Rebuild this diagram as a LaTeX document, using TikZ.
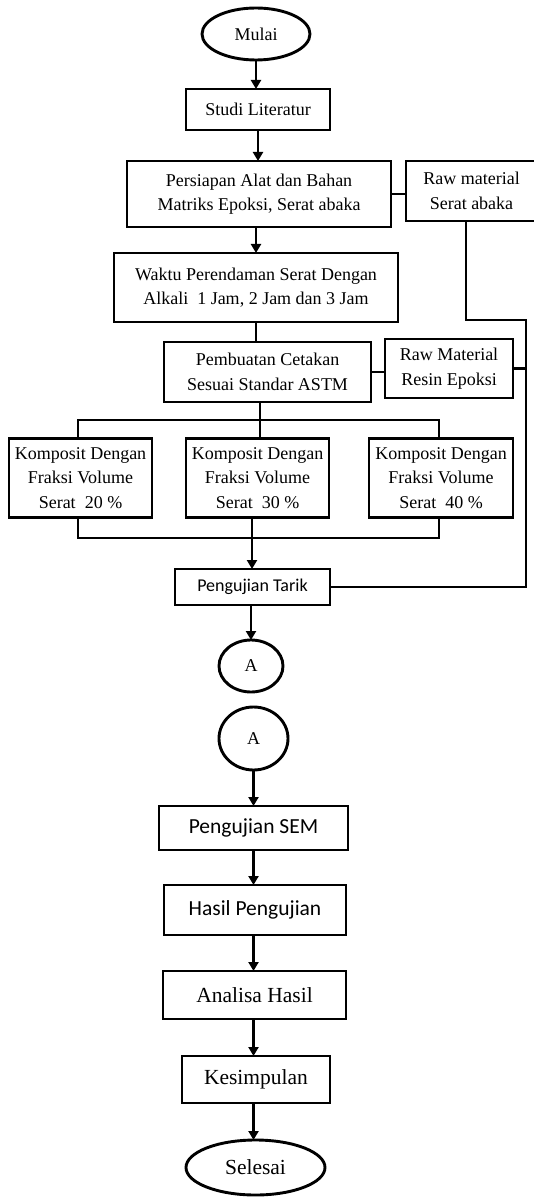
\documentclass[tikz,border=0pt]{standalone}
\usepackage{fontspec}
\setmainfont{Liberation Serif}
\newfontfamily\calfont{Carlito}
\usetikzlibrary{arrows.meta,shapes.geometric}
\begin{document}
\begin{tikzpicture}[x=1pt,y=-1pt,
  every node/.style={inner sep=0pt,outer sep=0pt,align=center,line width=2.9pt},
  txt/.style={font=\fontsize{18}{24.5}\selectfont},
  big/.style={font=\fontsize{21.5}{26}\selectfont},
  box/.style={draw,rectangle},
  oval/.style={draw,ellipse},
  conn/.style={line width=2.9pt},
  arr/.style={line width=2.9pt,-{Triangle[length=9pt,width=10pt]}}
]
\useasboundingbox (0,0) rectangle (534,1198);
% upper part
\node[oval,txt,minimum width=108,minimum height=52] (mulai) at (256,34) {Mulai};
\node[box,txt,minimum width=144,minimum height=41] (studi) at (258,109.5) {Studi Literatur};
\node[box,txt,minimum width=264,minimum height=66] (persiapan) at (259,194) {Persiapan Alat dan Bahan\\Matriks Epoksi, Serat abaka};
\node[box,txt,minimum width=131,minimum height=60] (raw1) at (471.5,191) {Raw material\\Serat abaka};
\node[box,txt,minimum width=284,minimum height=69] (waktu) at (256,287.5) {Waktu Perendaman Serat Dengan\\Alkali\ \ 1 Jam, 2 Jam dan 3 Jam};
\node[box,txt,minimum width=207,minimum height=60] (pembuatan) at (267.5,372) {Pembuatan Cetakan\\Sesuai Standar ASTM};
\node[box,txt,minimum width=128,minimum height=59] (raw2) at (449,368.5) {Raw Material\\Resin Epoksi};
\node[box,txt,minimum width=143,minimum height=79] (k1) at (80.5,478) {Komposit Dengan\\Fraksi Volume\\Serat\ \ 20 \%};
\node[box,txt,minimum width=143,minimum height=79] (k2) at (257.5,478) {Komposit Dengan\\Fraksi Volume\\Serat\ \ 30 \%};
\node[box,txt,minimum width=144,minimum height=79] (k3) at (441,478) {Komposit Dengan\\Fraksi Volume\\Serat\ \ 40 \%};
\node[box,font=\calfont\fontsize{18}{22}\selectfont,minimum width=155,minimum height=36] (tarik) at (252.5,587) {Pengujian Tarik};
\node[oval,txt,minimum width=64,minimum height=52] (a1) at (251,666) {A};
% lower part
\node[oval,txt,minimum width=69,minimum height=63] (a2) at (253.5,738.5) {A};
\node[box,font=\calfont\fontsize{21.5}{26}\selectfont,minimum width=189,minimum height=44] (sem) at (253.5,828) {Pengujian SEM};
\node[box,font=\calfont\fontsize{21.5}{26}\selectfont,minimum width=182,minimum height=50] (hasil) at (255,910) {Hasil Pengujian};
\node[box,big,minimum width=183,minimum height=48] (analisa) at (254.5,995) {Analisa Hasil};
\node[box,big,minimum width=148,minimum height=47] (kesimpulan) at (256,1079.5) {Kesimpulan};
\node[oval,big,minimum width=139,minimum height=55] (selesai) at (255.5,1167.5) {Selesai};
% helper coordinates
\coordinate (r1x) at (466,0);
\coordinate (b1) at (526,320);
\coordinate (split) at (260,420);
\coordinate (merge) at (252,538);
% connectors upper
\draw[arr] (mulai.south) -- (mulai.south |- studi.north);
\draw[arr] (studi.south) -- (studi.south |- persiapan.north);
\draw[arr] (persiapan.south -| waktu.north) -- (waktu.north);
\draw[conn] (persiapan.east) -- (persiapan.east -| raw1.west);
\draw[conn] (raw1.south -| r1x) |- (b1) |- (tarik.east);
\draw[conn] (raw2.east) -- (raw2.east -| b1);
\draw[conn] (waktu.south) -- (waktu.south |- pembuatan.north);
\draw[conn] (pembuatan.east) -- (pembuatan.east -| raw2.west);
\draw[conn] (pembuatan.south -| split) -- (split);
\draw[conn] (k1.north -| 78,0) |- (split) -| (k3.north -| 439,0);
\draw[conn] (split) -- (split |- k2.north);
\draw[conn] (k1.south -| 78,0) |- (merge) -| (k3.south -| 439,0);
\draw[conn] (merge |- k2.south) -- (merge);
\draw[arr] (merge) -- (tarik.north -| merge);
\draw[arr] (tarik.south -| a1.north) -- (a1.north);
% connectors lower
\draw[arr] (a2.south) -- (a2.south |- sem.north);
\draw[arr] (sem.south) -- (sem.south |- hasil.north);
\draw[arr] (hasil.south -| sem.south) -- (sem.south |- analisa.north);
\draw[arr] (analisa.south -| sem.south) -- (sem.south |- kesimpulan.north);
\draw[arr] (kesimpulan.south -| sem.south) -- (sem.south |- selesai.north);
\end{tikzpicture}
\end{document}
